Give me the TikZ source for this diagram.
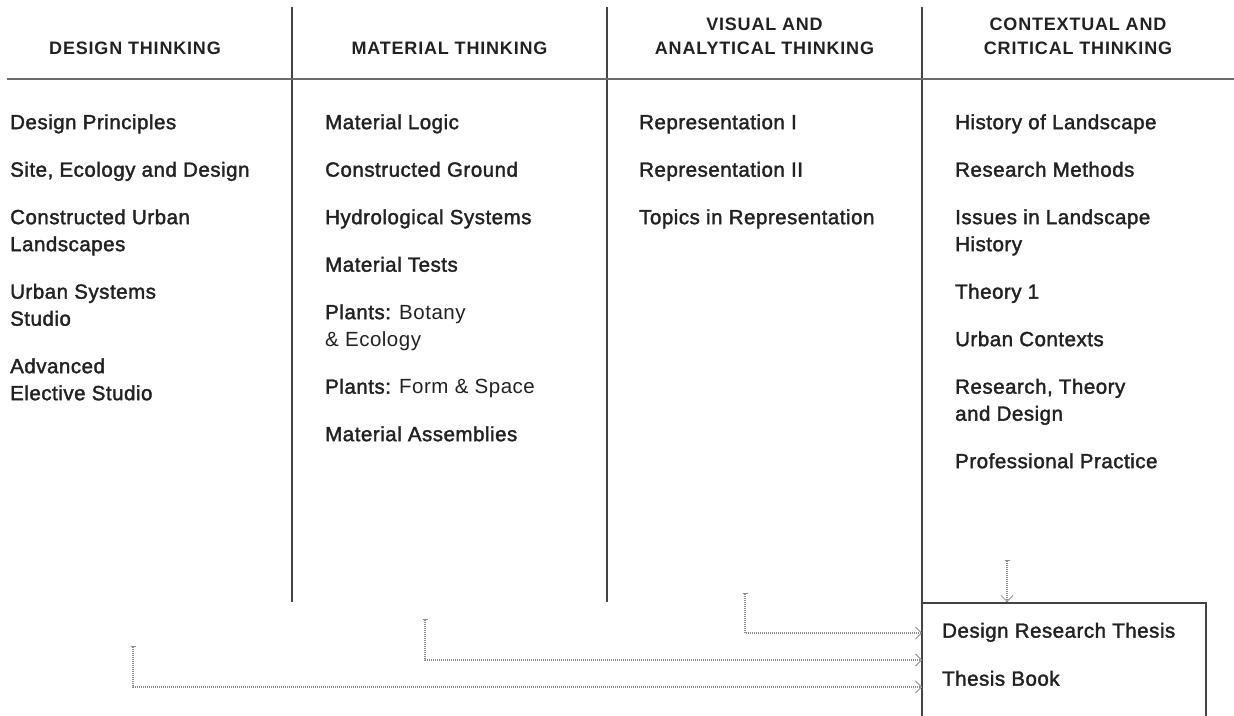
\documentclass[tikz,border=0pt]{standalone}
\usepackage{fontspec}
\usepackage{tikz}
\usetikzlibrary{arrows.meta}
\setmainfont{Liberation Sans}
\newfontfamily\headfont[LetterSpace=4.5]{Liberation Sans}
\newfontfamily\itemfont[LetterSpace=2.5, FakeBold=1.8]{Liberation Sans}
\newfontfamily\lightfont[LetterSpace=2.5]{Liberation Sans}
\newcommand\lightpart[1]{{\lightfont #1}}
\definecolor{InkDark}{HTML}{222222}
\definecolor{RuleGray}{HTML}{6A6A6A}
\definecolor{DotGray}{HTML}{8C8C8C}
\tikzset{
  colhead/.style={inner sep=0pt, align=center, text=InkDark,
                  font=\headfont\bfseries\fontsize{18}{24}\selectfont},
  course/.style={inner sep=0pt, anchor=north west, align=left, text=InkDark,
                 font=\itemfont\fontsize{20.5}{27}\selectfont},
  divider/.style={draw=InkDark!85, line width=1.3pt},
  headrule/.style={draw=RuleGray, line width=1.4pt},
  feed/.style={draw=DotGray, line width=1.1pt, dash pattern=on 1pt off 1pt,
               {Bar[width=5pt,line width=1pt]}-{Straight Barb[length=6pt,width=12pt,line width=0.8pt]}}
}

\begin{document}
\begin{tikzpicture}[x=1pt,y=-1pt]
  \useasboundingbox (0,0) rectangle (1234,715);

  % column rules and header rule
  \draw[divider] (292,7) -- (292,602);
  \draw[divider] (607,7) -- (607,602);
  \draw[divider] (922,7) -- (922,720);
  \draw[headrule] (7,79) -- (1234,79);

  % column headings
  \node[colhead] (head-design)   at (135,48.5)  {DESIGN THINKING};
  \node[colhead] (head-material) at (449.5,48.5) {MATERIAL THINKING};
  \node[colhead] (head-visual)   at (764.5,36.5) {VISUAL AND\\ANALYTICAL THINKING};
  \node[colhead] (head-context)  at (1078,36.5) {CONTEXTUAL AND\\CRITICAL THINKING};

  % design thinking
  \foreach \n/\y/\t in {1/121.5/Design Principles, 2/169/{Site, Ecology and Design},
                        3/216.5/{Constructed Urban\\Landscapes}, 4/291/{Urban Systems\\Studio},
                        5/365.5/{Advanced\\Elective Studio}} {
    \node[course] (design-\n) at (10,\y-7.4) {\t};
  }
  % material thinking
  \foreach \n/\y/\t in {1/121.5/Material Logic, 2/169/Constructed Ground,
                        3/216.5/Hydrological Systems, 4/264/Material Tests,
                        5/311.5/{Plants: \lightpart{Botany}\\\lightpart{\& Ecology}},
                        6/386/{Plants: \lightpart{Form \& Space}},
                        7/433.5/Material Assemblies} {
    \node[course] (material-\n) at (325,\y-7.4) {\t};
  }
  % visual and analytical thinking
  \foreach \n/\y/\t in {1/121.5/Representation I, 2/169/Representation II,
                        3/216.5/Topics in Representation} {
    \node[course] (visual-\n) at (639,\y-7.4) {\t};
  }
  % contextual and critical thinking
  \foreach \n/\y/\t in {1/121.5/History of Landscape, 2/169/Research Methods,
                        3/216.5/{Issues in Landscape\\History}, 4/291/Theory 1,
                        5/338.5/Urban Contexts, 6/386/{Research, Theory\\and Design},
                        7/460.5/Professional Practice} {
    \node[course] (context-\n) at (955,\y-7.4) {\t};
  }

  % thesis box
  \draw[divider] (922,603) -- (1206,603) -- (1206,720);
  \node[course] (thesis) at (942,630-7.4) {Design Research Thesis};
  \node[course] (book)   at (942,678-7.4) {Thesis Book};

  % feeds into the thesis box
  \coordinate (from-design)   at (133,646);
  \coordinate (from-material) at (425,619);
  \coordinate (from-visual)   at (745,593);
  \coordinate (from-context)  at (1007,560);
  \coordinate (to-design)   at (922,687);
  \coordinate (to-material) at (922,660);
  \coordinate (to-visual)   at (922,633);
  \coordinate (to-context)  at (1007,602);
  \draw[feed] (from-design) |- (to-design);
  \draw[feed] (from-material) |- (to-material);
  \draw[feed] (from-visual) |- (to-visual);
  \draw[feed] (from-context) -- (to-context);
\end{tikzpicture}
\end{document}
